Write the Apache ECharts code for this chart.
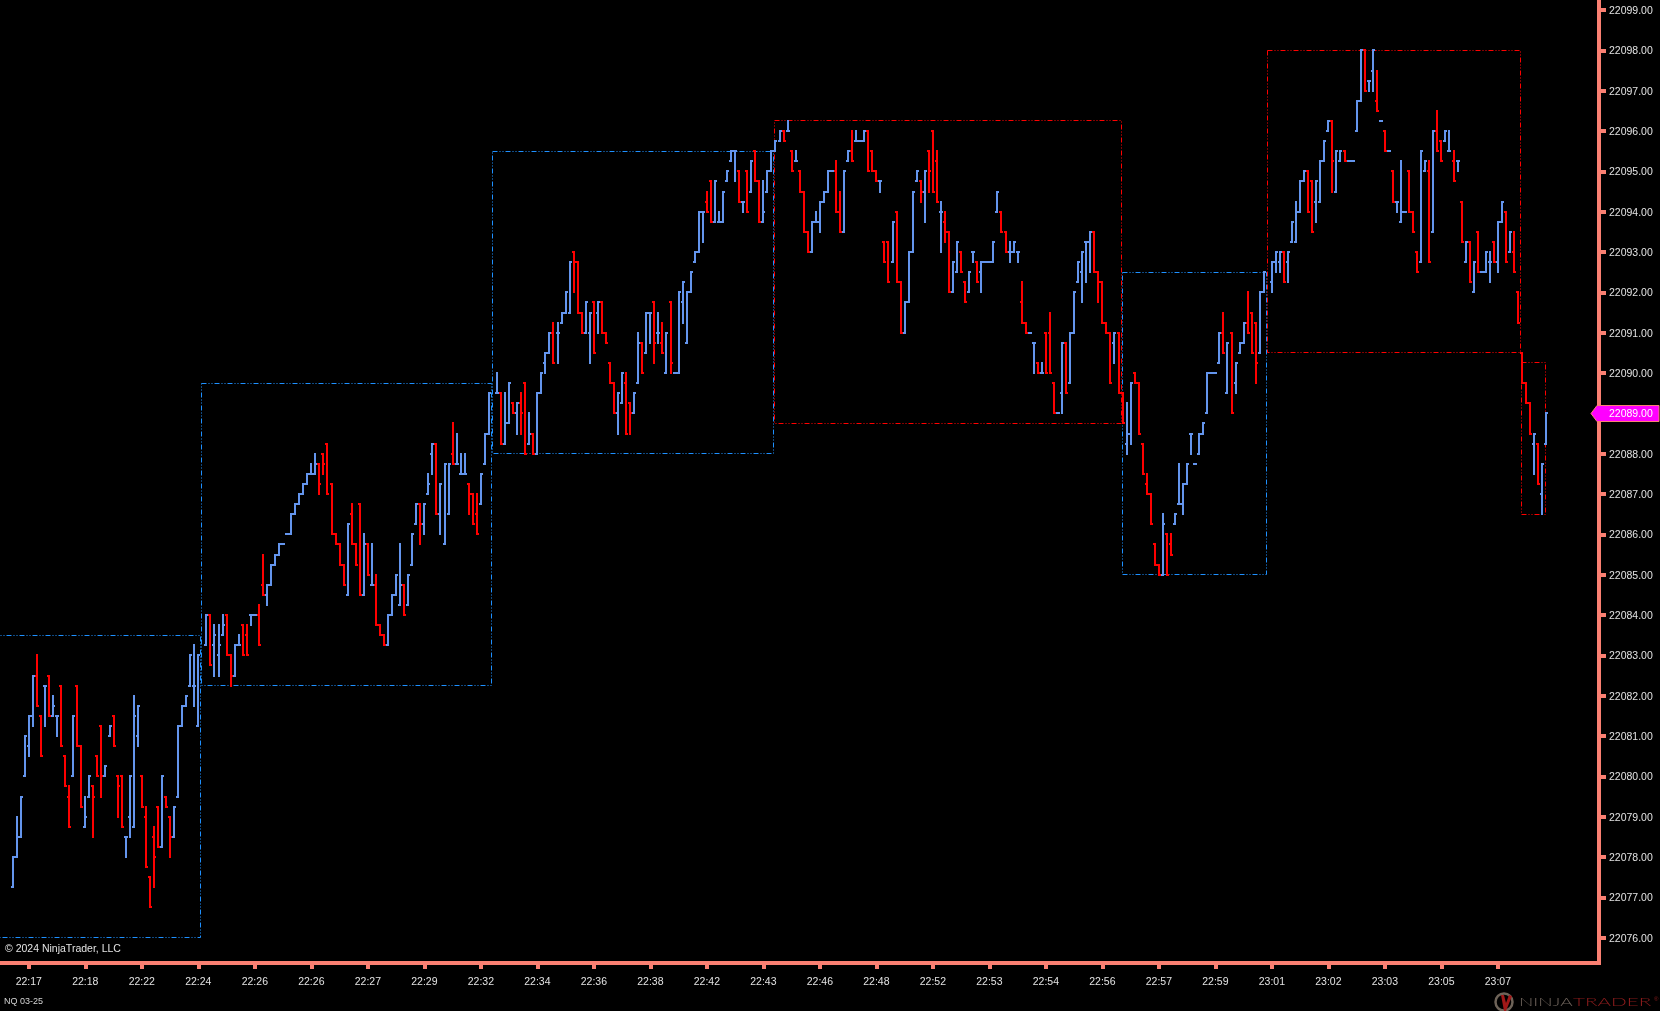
<!DOCTYPE html>
<html><head><meta charset="utf-8">
<style>html,body{margin:0;padding:0;background:#000;width:100%;height:100%;overflow:hidden}#c{width:1660px;height:1011px}</style>
<script src="https://cdn.jsdelivr.net/npm/echarts@6/dist/echarts.min.js"></script>
</head><body><div id="c"></div>
<script>
// Price = priceBase + n * tickSize; every bar row is [open, high, low, close] in ticks.
const priceBase = 22076, tickSize = 0.25, lastPrice = 22089;
const barsA = [[5,8,5,8],[8,12,8,10],[10,14,10,14],[16,20,16,20],[19,22,18,22],[22,26,21,26],[26,28,23,23],[22,22,18,18],[25,25,21,25],[26,26,22,22],
[22,24,22,23],[22,22,20,22],[25,25,19,19],[18,18,15,15],[14,15,11,11],[16,22,16,22],[25,25,19,19],[19,19,13,13],[11,14,11,12],[14,16,14,16],
[15,15,10,14],[18,18,16,16],[21,21,14,16],[16,17,16,17],[20,21,20,21],[22,22,19,19],[16,16,12,15],[16,16,11,11],[10,10,8,10],[12,16,10,16],
[11,24,11,22],[20,23,19,23],[16,16,13,13],[12,13,7,7],[6,6,3,3],[10,11,5,8],[13,13,9,9],[9,16,9,16],[14,14,13,13],[12,12,8,10],
[10,13,10,13],[14,21,14,21],[21,23,21,23],[23,24,23,24],[25,28,25,28],[25,29,23,25],[21,28,21,28],null];
const barsB = [[29,32,29,32],[32,32,27,27],[29,31,26,30],[28,31,26,29],[30,32,30,31],[32,32,28,28],[28,28,25,26],[26,29,26,29],[29,30,29,29],[31,31,28,28],
[30,31,28,28],[32,32,31,32],[32,32,32,32],[32,33,29,29],[35,38,34,34],[34,35,33,35],[35,37,35,37],[37,38,37,38],[38,39,38,39],[39,39,39,39],
[40,40,40,40],[40,42,40,42],[42,43,42,43],[43,44,43,44],[44,45,44,45],[45,46,45,46],[46,47,46,46],[46,48,46,47],[47,47,44,45],[48,48,46,47],
[49,49,44,44],[45,45,40,40],[40,40,39,39],[39,39,37,37],[37,37,35,35],[34,41,34,41],[42,43,39,39],[39,39,37,37],[43,43,34,34],[34,40,34,39],
[39,39,36,36],[35,39,35,35],[35,36,31,31],[31,31,30,30],[30,30,29,29],[29,32,29,32],[32,34,32,34],[34,36,34,36],[33,39,33,35],[35,35,32,32],
[33,36,33,36],[37,40,37,40],[41,43,41,43],[43,43,39,41],[41,43,40,43],[44,46,44,45],[48,49,46,49],[49,49,42,42],[42,45,40,45],[39,47,39,47],
[42,47,42,47],[48,51,47,47],[47,50,47,47],[46,48,46,46],[46,48,46,46],[45,45,42,44],[44,44,41,41],[42,44,40,40],[43,46,43,46],[47,50,47,50],
[50,54,50,54],null];
const barsC = [[54,56,54,54],[54,54,49,49],[49,54,49,51],[51,55,51,55],[53,53,52,52],[52,53,50,53],[53,54,50,52],[55,55,48,48],[49,52,49,50],[50,50,48,48],
[48,54,48,54],[54,56,54,56],[57,58,56,58],[58,60,58,60],[60,61,57,57],[60,61,57,60],[61,62,61,62],[62,64,62,64],[62,67,62,67],[68,68,64,67],
[67,67,62,62],[62,62,60,60],[60,63,60,63],[60,62,57,62],[63,63,58,58],[62,63,60,63],[63,63,60,60],[60,60,59,59],[57,57,55,55],[55,55,52,52],
[52,54,50,54],[53,56,53,56],[55,56,50,50],[53,53,50,52],[52,54,52,54],[55,60,55,59],[59,59,56,56],[58,62,58,62],[62,62,59,62],[63,63,57,59],
[60,62,59,60],[59,61,58,58],[56,60,56,60],[63,63,56,57],[56,56,56,56],[56,64,56,64],[63,65,61,65],[59,64,59,64],[64,66,64,66],[67,68,67,68],
[68,72,68,72],[72,72,69,72],[73,74,72,72],[75,75,71,71],[71,75,71,75],[71,72,71,71],[71,74,71,74],[75,76,75,76],[77,78,77,78],[78,78,75,78],
[76,76,73,73],[73,73,72,73],[76,76,72,72],[74,77,74,77],[78,78,75,75],[75,75,71,71],[71,75,71,72],[74,76,74,76],[76,78,76,78]];
const barsD = [[78,79,78,79],[79,80,79,80],[80,80,79,79],[80,81,80,80],[78,78,76,76],[77,78,77,77],[76,76,74,74],[74,74,70,70],[70,70,68,68],[68,71,68,71],
[71,72,71,71],[71,73,70,73],[73,74,73,74],[74,76,74,76],[76,76,76,76],[76,77,72,72],[72,74,70,70],[70,76,70,76],[77,78,77,78],[78,80,77,77],
[79,80,79,79],[79,79,79,79],[79,80,79,80],[80,80,76,76],[78,78,76,76],[76,76,75,75],[75,75,74,75],[69,69,67,67],[69,69,65,65],[67,71,67,71],
[72,72,65,65],[65,65,60,60],[60,63,60,63],[63,68,63,68],[68,74,68,74],[75,76,75,76],[75,75,73,74],[74,76,71,76],[78,78,74,76],[80,80,74,74],
[77,78,73,73],[72,73,68,72],[71,72,69,70],[70,70,64,64],[64,67,64,67],[66,69,66,69],[68,68,66,66],[65,65,63,63],[64,66,64,66],[68,68,67,68],
[67,67,65,65],[66,67,64,67],[67,67,67,67],[67,67,67,67],[67,69,67,69],[72,74,72,74],[72,72,70,70],[70,70,68,68],[68,69,67,68],[68,69,68,69],
[68,68,67,68],[63,65,61,61],[61,61,60,60],[60,60,60,60],[59,59,56,59],[57,57,56,56],[56,57,56,56],[60,60,56,56],[60,62,56,56],[55,55,52,52],
[52,52,52,52],[54,59,52,59],[59,59,54,54],[55,60,55,60],[60,64,60,64],[65,67,65,67],[66,68,63,68],[69,69,65,69],[69,70,66,70],[70,70,66,66],
[66,66,63,65],[65,65,61,61],[61,61,60,60],[60,60,55,55],[59,60,57,60],[60,60,54,54]];
const barsE = [[54,54,51,51],[49,53,48,50],[50,55,49,55],[56,56,55,55],[55,55,50,50],[49,49,46,46],[45,46,44,44],[44,44,41,41],[39,39,37,37],[37,37,36,36],
[36,42,36,41],[40,40,36,36],[39,40,38,38],[41,42,41,42],[43,47,43,43],[43,45,42,45],[45,47,45,47],[50,50,48,50],[47,47,47,47],[48,50,48,50],
[50,51,50,51],[52,56,52,56],[56,56,56,56],[56,56,56,56],[57,60,57,60],[60,62,58,58],[54,59,54,59],[60,60,52,52],[55,57,54,57],[58,59,58,59],
[59,61,59,61],[61,64,60,60],[62,62,58,58],[61,61,55,57],[58,64,58,64],[64,66,64,66],null];
const barsF = [[65,67,64,67],[67,68,66,68],[67,68,66,68],[68,68,65,65],[67,68,65,68],[69,71,69,71],[69,73,69,72],[72,75,72,75],[75,76,75,76],[76,76,72,72],
[75,75,70,70],[73,75,71,75],[73,77,73,77],[77,79,77,79],[80,81,80,81],[81,81,74,77],[74,78,74,78],[77,78,77,78],[78,78,77,77],[77,77,77,77],
[77,77,77,77],[80,83,80,83],[83,88,83,88],[88,88,84,84],[85,85,84,85],[86,88,84,88],[83,86,82,82],[81,81,81,81],[80,80,78,78],[78,78,78,78],
[76,76,73,73],[73,73,72,73],[71,77,71,72],[72,72,72,72],[76,76,72,72],[72,72,70,70],[68,68,66,66],[67,78,67,78],[76,77,76,77],[76,77,67,67],
[70,80,70,80],[80,82,78,78],[79,79,77,77],[79,80,79,80],[78,80,78,78],[77,78,75,75],[77,77,76,77],[73,73,69,69],[67,69,67,69],[69,69,65,65],
[64,67,64,67],[70,70,66,66],[66,66,66,66],[66,68,66,68],[67,68,65,67],[69,69,67,67],[67,71,66,71],[71,73,71,73],[72,72,67,67],[68,70,68,70],
[68,70,66,66],[64,64,61,61]];
const barsG = [[58,58,55,55],[55,55,53,53],[53,53,50,50],[49,50,46,50],[49,49,45,45],[44,47,42,47],[49,52,49,52]];

// Range boxes, in bar slots and prices
const boxStart = [-8, 46.7, 118.8, 188.7, 274.9, 310.85, 373.9];
const boxEnd   = [46.5, 118.6, 188.6, 274.7, 310.6, 373.5, 379.7];
const boxHigh  = [22083.5, 22089.75, 22095.5, 22096.25, 22092.5, 22098, 22090.25];
const boxLow   = [22076, 22082.25, 22088, 22088.75, 22085, 22090.5, 22086.5];
const boxUp    = [1, 1, 1, 0, 1, 0, 0];

const timeLabels = ['22:17','22:18','22:22','22:24','22:26','22:26','22:27','22:29','22:32','22:34','22:36','22:38','22:42','22:43','22:46','22:48','22:52','22:53','22:54','22:56','22:57','22:59','23:01','23:02','23:03','23:05','23:07'];
const firstLabelSlot = 4, slotsPerLabel = 14;
const priceTicks = [22076,22077,22078,22079,22080,22081,22082,22083,22084,22085,22086,22087,22088,22089,22090,22091,22092,22093,22094,22095,22096,22097,22098,22099];

const BLUE = '#6495ed', RED = '#ff0000', AXIS = '#fa8072', TXT = '#e2e2e2', FONT = '"Liberation Sans", Arial, sans-serif';
const allBars = [].concat(barsA, barsB, barsC, barsD, barsE, barsF, barsG);
const p = n => priceBase + n * tickSize;
const barData = [];
allBars.forEach((b, i) => { if (b) barData.push([i, p(b[0]), p(b[1]), p(b[2]), p(b[3])]); });
const boxData = boxStart.map((s, i) => [s, boxEnd[i], boxHigh[i], boxLow[i], boxUp[i]]);
const labelSlots = timeLabels.map((_, k) => firstLabelSlot + k * slotsPerLabel);

const chart = echarts.init(document.getElementById('c'), null, {renderer: 'canvas', width: 1660, height: 1011});

function renderBar(params, api) {
  const i = api.value(0), o = api.value(1), h = api.value(2), l = api.value(3), c = api.value(4);
  const x = Math.round(api.coord([i, o])[0]);
  const yo = Math.round(api.coord([i, o])[1]), yh = Math.round(api.coord([i, h])[1]);
  const yl = Math.round(api.coord([i, l])[1]), yc = Math.round(api.coord([i, c])[1]);
  const col = c >= o ? BLUE : RED;
  const st = {fill: col};
  return {type: 'group', children: [
    {type: 'rect', shape: {x: x - 1, y: yh - 1, width: 2, height: Math.max(2, yl - yh + 2)}, style: st},
    {type: 'rect', shape: {x: x - 2, y: yo - 1, width: 2, height: 2}, style: st},
    {type: 'rect', shape: {x: x, y: yc - 1, width: 2, height: 2}, style: st}
  ]};
}
function renderBox(params, api) {
  const a = api.coord([api.value(0), api.value(2)]), b = api.coord([api.value(1), api.value(3)]);
  const x0 = Math.floor(a[0]) + .5, y0 = Math.floor(a[1]) + .5, x1 = Math.floor(b[0]) + .5, y1 = Math.floor(b[1]) + .5;
  return {type: 'rect', shape: {x: x0, y: y0, width: x1 - x0, height: y1 - y0},
    style: {fill: null, stroke: api.value(4) ? '#1e90ff' : '#ff0000', lineWidth: 1, lineDash: [5, 2, 1, 2, 1, 2]}};
}
function renderTag(params, api) {
  const y = Math.round(api.coord([0, api.value(0)])[1]) + 0.5;
  return {type: 'group', children: [
    {type: 'polygon', shape: {points: [[1591, y], [1597, y - 8], [1659, y - 8], [1659, y + 8], [1597, y + 8]]},
     style: {fill: '#ff00ff', stroke: AXIS, lineWidth: 1}},
    {type: 'text', x: 1609, y: y + 1, style: {text: api.value(0).toFixed(2), fill: '#fff', font: '10.5px ' + FONT, verticalAlign: 'middle'}}
  ]};
}

const logoGraphics = [
  {type: 'circle', shape: {cx: 1504, cy: 1002, r: 8.5}, style: {fill: 'none', stroke: '#6e6358', lineWidth: 2.5}},
  {type: 'polygon', shape: {points: [[1501, 995], [1504, 995], [1506, 1003], [1509, 995], [1512, 996], [1506, 1011], [1504, 1011]]}, style: {fill: '#a01818'}},
  {type: 'text', x: 1519, y: 1002.5, scaleX: 1.58, style: {text: 'NINJA', fill: '#6f645c', font: '300 12px Lato, sans-serif', verticalAlign: 'middle'}},
  {type: 'text', x: 1573, y: 1002.5, scaleX: 1.72, style: {text: 'TRADER', fill: '#8c1c1c', font: '300 12px Lato, sans-serif', verticalAlign: 'middle'}},
  {type: 'text', x: 1654, y: 999, style: {text: '®', fill: '#8c1c1c', font: '6px ' + FONT, verticalAlign: 'middle'}},
  {type: 'text', x: 5, y: 949, style: {text: '© 2024 NinjaTrader, LLC', fill: '#e2e2e2', font: '10.5px ' + FONT, verticalAlign: 'middle'}},
  {type: 'text', x: 4, y: 1002, style: {text: 'NQ 03-25', fill: '#d4d4d4', font: '9px ' + FONT, verticalAlign: 'middle'}}
];

chart.setOption({
  animation: false,
  backgroundColor: '#000',
  grid: {left: 0, right: 61, top: 0, bottom: 48, containLabel: false},
  xAxis: {
    type: 'value', min: -3.14, max: 393.05, splitLine: {show: false},
    axisLine: {show: true, onZero: false, lineStyle: {color: AXIS, width: 4, cap: 'square'}},
    axisTick: {show: true, customValues: labelSlots, length: 6, lineStyle: {color: AXIS, width: 4}},
    axisLabel: {customValues: labelSlots, margin: 14, color: TXT, fontSize: 10.5, fontFamily: FONT,
      formatter: v => timeLabels[Math.round((v - firstLabelSlot) / slotsPerLabel)]}
  },
  yAxis: {
    type: 'value', position: 'right', min: 22075.373, max: 22099.25, splitLine: {show: false},
    axisLine: {show: true, onZero: false, lineStyle: {color: AXIS, width: 4, cap: 'square'}},
    axisTick: {show: true, customValues: priceTicks, length: 7, lineStyle: {color: AXIS, width: 4}},
    axisLabel: {customValues: priceTicks, margin: 10, color: TXT, fontSize: 10.5, fontFamily: FONT,
      verticalAlign: 'top', lineHeight: 14, padding: [-6, 0, 0, 0], formatter: v => v.toFixed(2)}
  },
  graphic: logoGraphics,
  series: [
    {type: 'custom', name: 'range boxes', renderItem: renderBox, data: boxData, clip: true, z: 2, silent: true, encode: {x: [0, 1], y: [2, 3]}},
    {type: 'custom', name: 'NQ 03-25', renderItem: renderBar, data: barData, clip: false, z: 3, silent: true, encode: {x: 0, y: [1, 2, 3, 4]}},
    {type: 'custom', name: 'last price', coordinateSystem: 'cartesian2d', renderItem: renderTag, data: [[lastPrice]], clip: false, z: 5, silent: true, encode: {y: 0}}
  ]
});
</script>
</body></html>
